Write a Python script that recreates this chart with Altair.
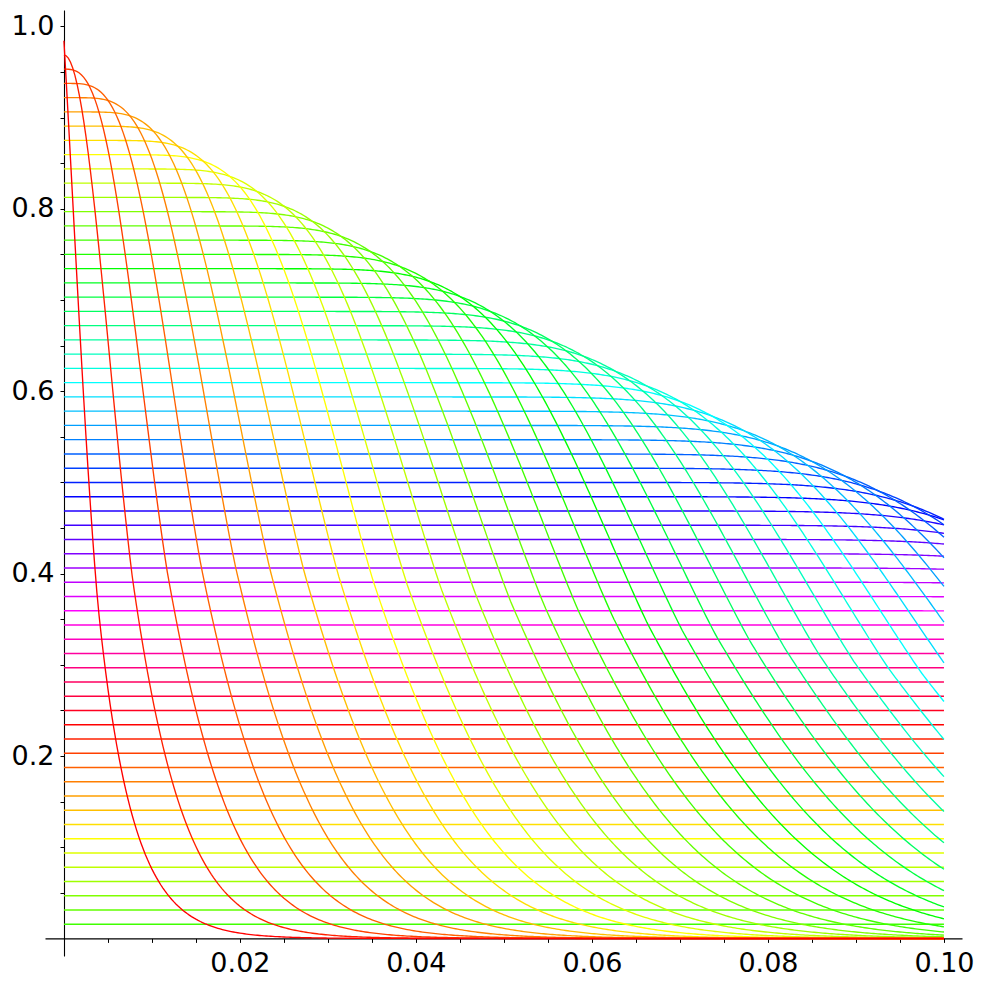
import math
import colorsys
import altair as alt
import pandas as pd

# ---- values ----
level_index = list(range(1, 64))            # curve k sits at level k/64
level_denominator = 64
levels = [k / level_denominator for k in level_index]
event_rate = 256.0
knee_sharpen = 0.34                         # knees sit higher than a plain Poisson drop
knee_power = 1.25
hue_step = 1.0 / 48.0                        # hue advances ~1/48 per level (red at top)
x_max = 0.1
n_samples = 400

x_major = [0.02, 0.04, 0.06, 0.08, 0.10]
x_ticks = [round(0.005 * i, 3) for i in range(1, 21)]
y_major = [0.2, 0.4, 0.6, 0.8, 1.0]
y_ticks = [round(0.05 * i, 2) for i in range(1, 21)]

x_domain = [-0.00215, 0.10205]
y_domain = [-0.0192, 1.018]

# ---- build the table ----
xs = [x_max * i / n_samples for i in range(n_samples + 1)]
rows = []
for k, c in zip(level_index, levels):
    m = level_denominator - k
    for x in xs:
        lam = event_rate * x
        s_ratio = lam / m
        lam *= 1.0 - knee_sharpen * max(0.0, 1.0 - s_ratio) ** knee_power
        term = math.exp(-lam)
        s = term
        for j in range(1, m):
            term *= lam / j
            s += term
        rows.append({"x": x, "y": c * min(s, 1.0), "k": k})
df = pd.DataFrame(rows)

colors = []
for k in level_index:
    h = ((63 - k) * hue_step) % 1.0
    r, g, b = colorsys.hsv_to_rgb(h, 1.0, 1.0)
    colors.append("#%02x%02x%02x" % (round(r * 255), round(g * 255), round(b * 255)))

x_label_expr = "abs(datum.value*50 - round(datum.value*50)) < 0.001 ? format(datum.value, '.2f') : ''"
y_label_expr = "abs(datum.value*5 - round(datum.value*5)) < 0.001 ? format(datum.value, '.1f') : ''"

chart = alt.Chart(df).mark_line(strokeWidth=1.35, clip=True).encode(
    x=alt.X(
        "x:Q",
        scale=alt.Scale(domain=x_domain, nice=False, zero=False),
        axis=alt.Axis(
            values=x_ticks, labelExpr=x_label_expr, offset=-17.6, title=None,
            labelPadding=8, labelOverlap=False, labelFlush=False, labelBound=False,
        ),
    ),
    y=alt.Y(
        "y:Q",
        scale=alt.Scale(domain=y_domain, nice=False, zero=False),
        axis=alt.Axis(
            values=y_ticks, labelExpr=y_label_expr, offset=-19, title=None,
            labelPadding=6, labelOverlap=False, labelFlush=False, labelBound=False,
        ),
    ),
    color=alt.Color("k:N", scale=alt.Scale(domain=level_index, range=colors), legend=None),
    order=alt.Order("x:Q"),
).properties(
    width=917,
    height=946,
    autosize=alt.AutoSizeParams(type="none"),
    padding={"left": 37, "top": 2, "right": 14, "bottom": 22},
).configure_view(
    strokeWidth=0
).configure_axis(
    grid=False,
    domainColor="black",
    domainWidth=1.1,
    tickColor="black",
    tickWidth=1,
    tickSize=4,
    labelColor="black",
    labelFont="DejaVu Sans",
    labelFontSize=27,
)

chart.save("out.html", embed_options={"renderer": "svg", "actions": False})
